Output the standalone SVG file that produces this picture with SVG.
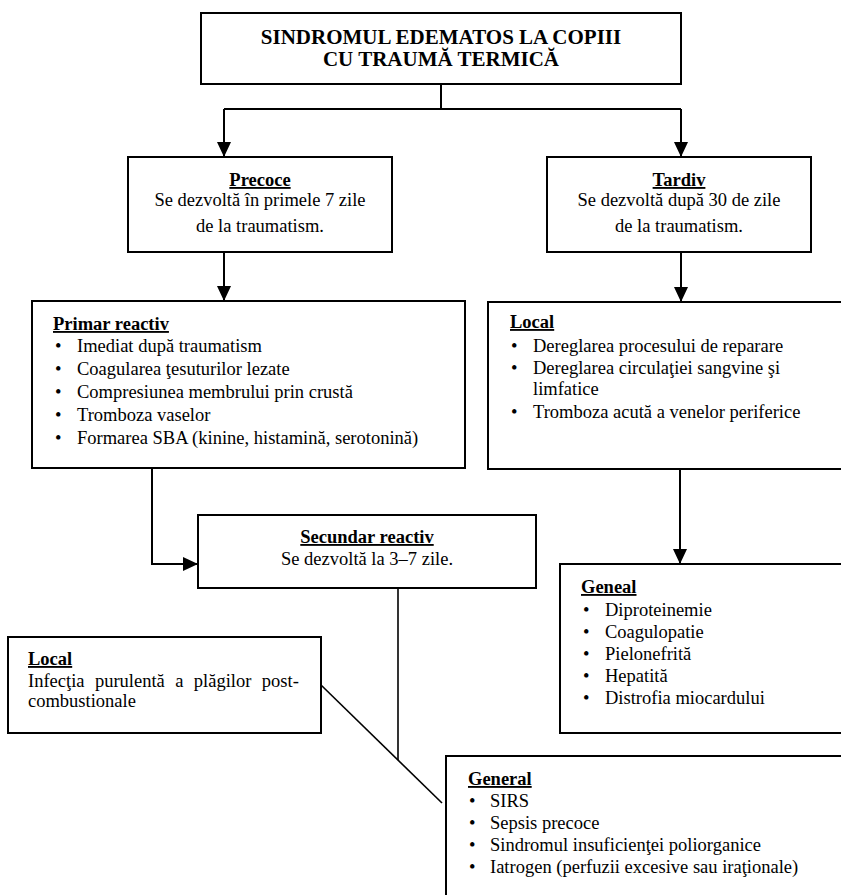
<svg xmlns="http://www.w3.org/2000/svg" width="841" height="895" viewBox="0 0 841 895">
<style>
  .box { fill: #ffffff; stroke: #000000; stroke-width: 2; }
  .t { font-family: "Liberation Serif", "Times New Roman", serif; font-size: 18.5px; fill: #000000; }
  .h { font-family: "Liberation Serif", "Times New Roman", serif; font-size: 18.5px; font-weight: bold; text-decoration: underline; fill: #000000; }
  .title { font-family: "Liberation Serif", "Times New Roman", serif; font-size: 21px; font-weight: bold; fill: #000000; }
  .c { text-anchor: middle; }
  .conn { fill: none; stroke: #000000; stroke-width: 2; }
  .thin { fill: none; stroke: #000000; stroke-width: 1.6; }
</style>
<defs>
  <marker id="arrow" markerUnits="userSpaceOnUse" markerWidth="15" markerHeight="14" refX="15" refY="7" orient="auto">
    <path d="M0,0 L15,7 L0,14 z" fill="#000000"/>
  </marker>
</defs>

<g id="connectors">
  <path class="conn" d="M441,84 V109"/>
  <path class="conn" d="M224,109 H681"/>
  <path class="conn" d="M224,109 V157" marker-end="url(#arrow)"/>
  <path class="conn" d="M681,109 V157" marker-end="url(#arrow)"/>
  <path class="conn" d="M224,252 V301" marker-end="url(#arrow)"/>
  <path class="conn" d="M681,252 V302" marker-end="url(#arrow)"/>
  <path class="conn" d="M152,468 V564 H198" marker-end="url(#arrow)"/>
  <path class="conn" d="M680,469 V564" marker-end="url(#arrow)"/>
  <path class="thin" d="M398,588 V760"/>
  <path class="thin" d="M321,685 L442,803"/>
</g>

<g id="title">
  <rect class="box" x="201" y="13" width="480" height="71"/>
  <text class="title c" x="441" y="44">SINDROMUL EDEMATOS LA COPIII</text>
  <text class="title c" x="441" y="66">CU TRAUMĂ TERMICĂ</text>
</g>

<g id="precoce">
  <rect class="box" x="128" y="157" width="264" height="95"/>
  <text class="h c" x="260" y="186">Precoce</text>
  <text class="t c" x="260" y="206">Se dezvoltă în primele 7 zile</text>
  <text class="t c" x="260" y="232">de la traumatism.</text>
</g>

<g id="tardiv">
  <rect class="box" x="547" y="157" width="264" height="95"/>
  <text class="h c" x="679" y="186">Tardiv</text>
  <text class="t c" x="679" y="206">Se dezvoltă după 30 de zile</text>
  <text class="t c" x="679" y="232">de la traumatism.</text>
</g>

<g id="primar-reactiv">
  <rect class="box" x="32" y="301" width="433" height="167"/>
  <text class="h" x="53" y="330">Primar reactiv</text>
  <text class="t" x="55" y="352">•</text><text class="t" x="77" y="352">Imediat după traumatism</text>
  <text class="t" x="55" y="375">•</text><text class="t" x="77" y="375">Coagularea ţesuturilor lezate</text>
  <text class="t" x="55" y="398">•</text><text class="t" x="77" y="398">Compresiunea membrului prin crustă</text>
  <text class="t" x="55" y="421">•</text><text class="t" x="77" y="421">Tromboza vaselor</text>
  <text class="t" x="55" y="444">•</text><text class="t" x="77" y="444">Formarea SBA (kinine, histamină, serotonină)</text>
</g>

<g id="local-tardiv">
  <rect class="box" x="488" y="302" width="360" height="167"/>
  <text class="h" x="510" y="328">Local</text>
  <text class="t" x="511" y="352">•</text><text class="t" x="533" y="352">Dereglarea procesului de reparare</text>
  <text class="t" x="511" y="374">•</text><text class="t" x="533" y="374">Dereglarea circulaţiei sangvine şi</text>
  <text class="t" x="533" y="395">limfatice</text>
  <text class="t" x="511" y="418">•</text><text class="t" x="533" y="418">Tromboza acută a venelor periferice</text>
</g>

<g id="secundar-reactiv">
  <rect class="box" x="198" y="515" width="338" height="73"/>
  <text class="h c" x="367" y="543">Secundar reactiv</text>
  <text class="t c" x="367" y="565">Se dezvoltă la 3–7 zile.</text>
</g>

<g id="geneal">
  <rect class="box" x="560" y="564" width="290" height="169"/>
  <text class="h" x="581" y="593">Geneal</text>
  <text class="t" x="583" y="616">•</text><text class="t" x="605" y="616">Diproteinemie</text>
  <text class="t" x="583" y="638">•</text><text class="t" x="605" y="638">Coagulopatie</text>
  <text class="t" x="583" y="660">•</text><text class="t" x="605" y="660">Pielonefrită</text>
  <text class="t" x="583" y="682">•</text><text class="t" x="605" y="682">Hepatită</text>
  <text class="t" x="583" y="704">•</text><text class="t" x="605" y="704">Distrofia miocardului</text>
</g>

<g id="local-secundar">
  <rect class="box" x="8" y="637" width="313" height="96"/>
  <text class="h" x="28" y="665">Local</text>
  <text class="t" x="28" y="687" word-spacing="5.8">Infecţia purulentă a plăgilor post-</text>
  <text class="t" x="28" y="707">combustionale</text>
</g>

<g id="general">
  <rect class="box" x="446" y="756" width="410" height="160"/>
  <text class="h" x="468" y="785">General</text>
  <text class="t" x="469" y="807">•</text><text class="t" x="490" y="807">SIRS</text>
  <text class="t" x="469" y="829">•</text><text class="t" x="490" y="829">Sepsis precoce</text>
  <text class="t" x="469" y="851">•</text><text class="t" x="490" y="851">Sindromul insuficienţei poliorganice</text>
  <text class="t" x="469" y="873">•</text><text class="t" x="490" y="873">Iatrogen (perfuzii excesive sau iraţionale)</text>
</g>
</svg>
